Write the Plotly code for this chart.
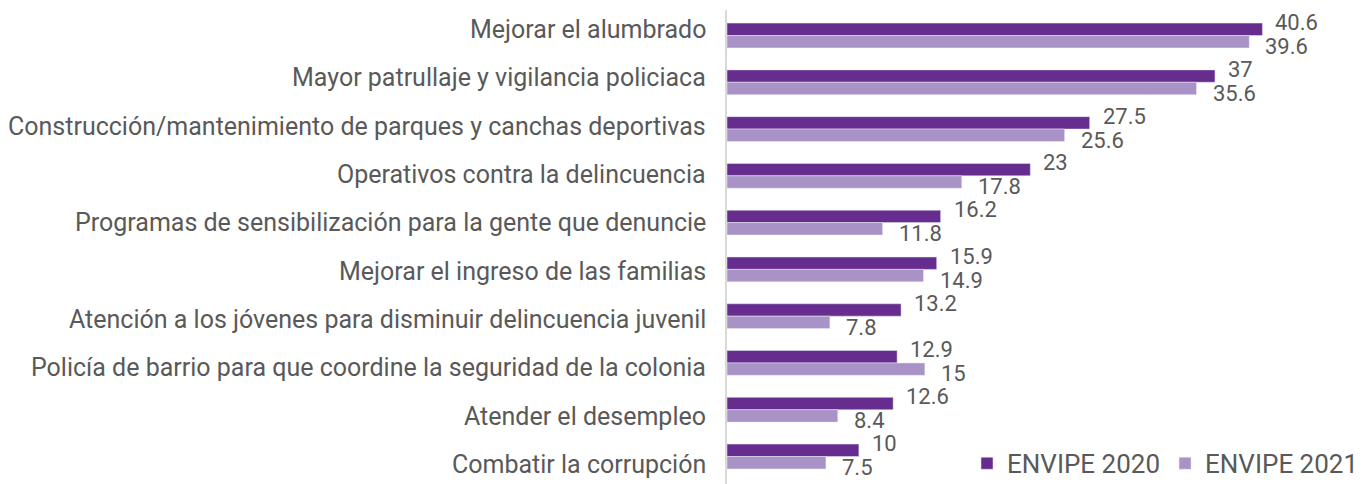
import plotly.graph_objects as go

categories = [
    "Mejorar el alumbrado",
    "Mayor patrullaje y vigilancia policiaca",
    "Construcción/mantenimiento de parques y canchas deportivas",
    "Operativos contra la delincuencia",
    "Programas de sensibilización para la gente que denuncie",
    "Mejorar el ingreso de las familias",
    "Atención a los jóvenes para disminuir delincuencia juvenil",
    "Policía de barrio para que coordine la seguridad de la colonia",
    "Atender el desempleo",
    "Combatir la corrupción",
]
envipe_2020 = [40.6, 37, 27.5, 23, 16.2, 15.9, 13.2, 12.9, 12.6, 10]
envipe_2021 = [39.6, 35.6, 25.6, 17.8, 11.8, 14.9, 7.8, 15, 8.4, 7.5]

font_family = "Roboto"
text_color = "#595959"
c2020 = "#662D8F"
c2021 = "#A992C5"

fig = go.Figure()
fig.add_trace(go.Bar(
    y=categories, x=envipe_2020, orientation="h", name="ENVIPE 2020",
    marker=dict(color=c2020),
))
fig.add_trace(go.Bar(
    y=categories, x=envipe_2021, orientation="h", name="ENVIPE 2021",
    marker=dict(color=c2021),
))
# helper axis (y2) on which the category labels are laid out
label_pos = list(range(len(categories)))
fig.add_trace(go.Scatter(
    x=[0] * len(categories), y=label_pos, yaxis="y2", mode="markers",
    marker=dict(opacity=0), showlegend=False, hoverinfo="skip",
))

annotations = []
for pos, cat in zip(label_pos, categories):
    annotations.append(dict(
        x=0, y=pos, xref="paper", yref="y2", text=cat, showarrow=False,
        xanchor="right", yanchor="middle", xshift=-19,
        font=dict(size=25, color=text_color, family=font_family),
    ))
for cat, v in zip(categories, envipe_2020):
    annotations.append(dict(
        x=v, y=cat, xref="x", yref="y", text=f"{v:g}", showarrow=False,
        xanchor="left", yanchor="middle", xshift=11, yshift=13,
        font=dict(size=22, color=text_color, family=font_family),
    ))
for cat, v in zip(categories, envipe_2021):
    annotations.append(dict(
        x=v, y=cat, xref="x", yref="y", text=f"{v:g}", showarrow=False,
        xanchor="left", yanchor="middle", xshift=14, yshift=-11,
        font=dict(size=22, color=text_color, family=font_family),
    ))

# page body has an 8px default margin, so the figure is sized to fit the window
fig.update_layout(
    width=1356, height=476,
    margin=dict(l=719, r=0, t=2, b=0, autoexpand=False),
    barmode="group", bargap=0.47, bargroupgap=0,
    paper_bgcolor="white", plot_bgcolor="white",
    font=dict(family=font_family, color=text_color, size=24),
    showlegend=True,
    legend=dict(
        orientation="h", x=1.0, xanchor="right", y=-0.006, yanchor="bottom",
        font=dict(size=26, color=text_color, family=font_family),
        bgcolor="rgba(0,0,0,0)", itemwidth=30, traceorder="normal",
        tracegroupgap=0,
    ),
    annotations=annotations,
    xaxis=dict(range=[0, 48.3], visible=False),
    yaxis=dict(
        autorange="reversed", showline=True, linecolor="#D9D9D9", linewidth=2,
        ticks="", showgrid=False, showticklabels=False,
    ),
    yaxis2=dict(
        overlaying="y", range=[9.4035, -0.4035], visible=False, fixedrange=True,
    ),
)
fig.write_html("out.html")
